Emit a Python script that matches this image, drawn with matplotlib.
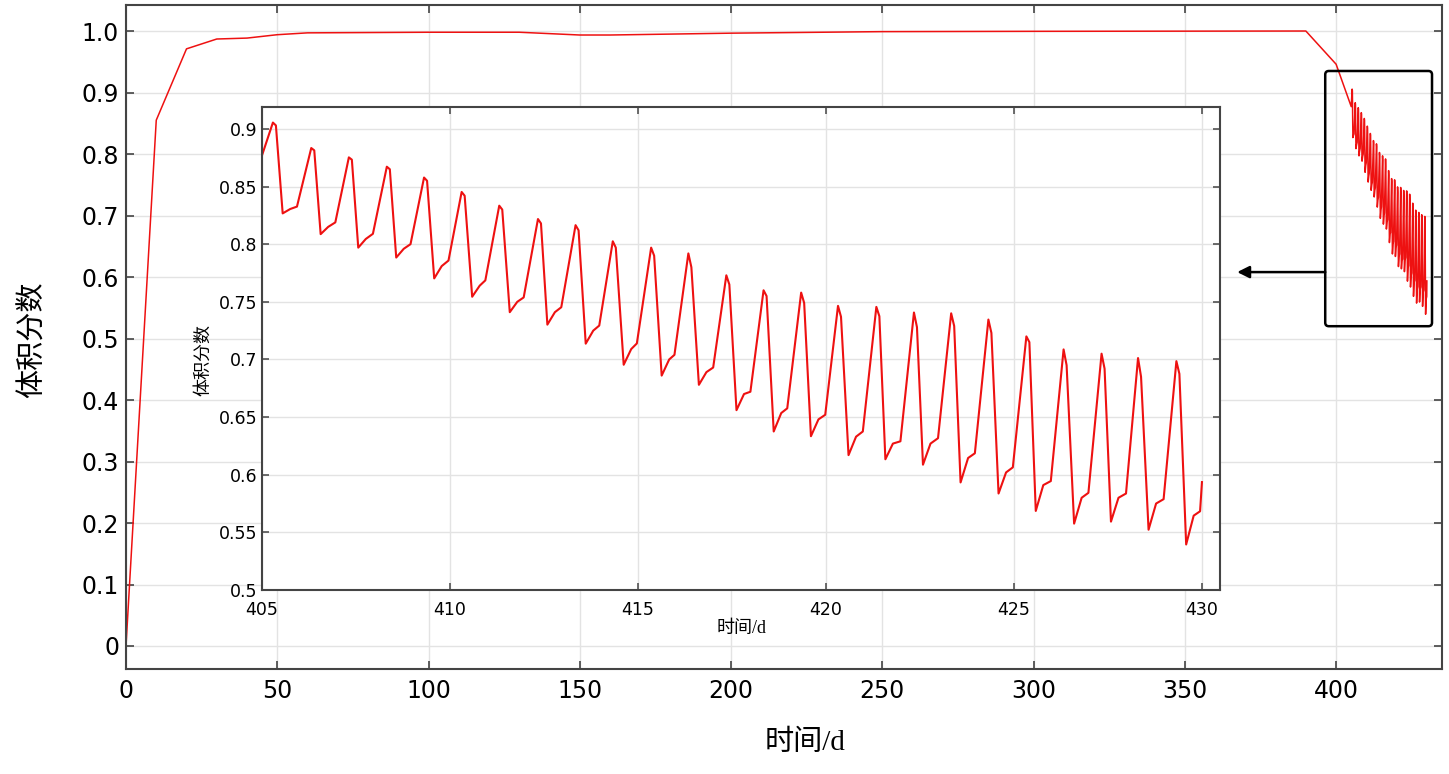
import numpy as np
import matplotlib
matplotlib.use('Agg')
import matplotlib.pyplot as plt
from matplotlib.patches import FancyBboxPatch

# Основная кривая (0..405 сут)
main_t = [0, 10, 20, 30, 40, 50, 60, 100, 130, 150, 160, 200, 250, 300, 390, 400, 405.0]
main_v = [0, 0.855, 0.971, 0.987, 0.9885, 0.994, 0.997, 0.998, 0.998, 0.9935, 0.9935,
          0.9965, 0.999, 0.9995, 1.0, 0.946, 0.877]

# Колебания 405..430 сут: пик, плечо, минимум, подъём, излом
peak_t = [405.29, 406.31, 407.31, 408.32, 409.31, 410.31, 411.31, 412.34, 413.34, 414.33,
          415.35, 416.34, 417.35, 418.34, 419.34, 420.32, 421.34, 422.34, 423.33, 424.32,
          425.33, 426.32, 427.33, 428.30, 429.32]
peak_v = [0.9055, 0.8834, 0.8753, 0.8672, 0.8578, 0.8453, 0.8334, 0.8218, 0.8165, 0.8025,
          0.797, 0.792, 0.773, 0.760, 0.758, 0.7465, 0.7456, 0.7407, 0.740, 0.7346,
          0.720, 0.7087, 0.705, 0.7012, 0.6985]
shoulder_v = [0.903, 0.8814, 0.8733, 0.865, 0.855, 0.842, 0.830, 0.818, 0.812, 0.797,
              0.790, 0.780, 0.765, 0.755, 0.749, 0.737, 0.7375, 0.728, 0.729, 0.723,
              0.715, 0.695, 0.692, 0.685, 0.6875]
min_t = [405.55, 406.56, 407.56, 408.57, 409.58, 410.59, 411.59, 412.59, 413.61, 414.62,
         415.63, 416.62, 417.62, 418.61, 419.60, 420.60, 421.58, 422.58, 423.58, 424.59,
         425.58, 426.60, 427.58, 428.58, 429.58]
min_v = [0.8267, 0.8087, 0.797, 0.7884, 0.7703, 0.7544, 0.741, 0.7302, 0.7137, 0.6954,
         0.686, 0.678, 0.656, 0.6375, 0.6334, 0.617, 0.6134, 0.6087, 0.5933, 0.5837,
         0.5686, 0.5576, 0.5593, 0.5523, 0.5395]
rise_v = [0.8305, 0.8150, 0.8045, 0.7960, 0.7810, 0.7640, 0.7500, 0.7410, 0.7250, 0.7090,
          0.700, 0.689, 0.670, 0.6535, 0.648, 0.633, 0.627, 0.627, 0.6145, 0.602,
          0.591, 0.580, 0.580, 0.575, 0.5645]
kink_t = [405.93, 406.95, 407.95, 408.95, 409.96, 410.94, 411.96, 412.96, 413.97, 414.97,
          415.97, 417.00, 417.99, 418.97, 419.98, 420.98, 421.98, 422.98, 423.96, 424.97,
          425.98, 426.98, 427.98, 428.98, 429.95]
kink_v = [0.8326, 0.8189, 0.809, 0.800, 0.7858, 0.7686, 0.7538, 0.7453, 0.7294, 0.7139,
          0.704, 0.693, 0.672, 0.6576, 0.652, 0.6375, 0.629, 0.6317, 0.6186, 0.6064,
          0.5945, 0.5843, 0.5837, 0.5788, 0.5683]
end_t, end_v = 430.0, 0.5936

osc_t, osc_v = [], []
for i in range(len(peak_t)):
    osc_t += [peak_t[i], peak_t[i] + 0.08, min_t[i], min_t[i] + 0.2, kink_t[i]]
    osc_v += [peak_v[i], shoulder_v[i], min_v[i], rise_v[i], kink_v[i]]
osc_t.append(end_t)
osc_v.append(end_v)

t_all = np.array(main_t + osc_t)
v_all = np.array(main_v + osc_v)

main_xticks = np.arange(0, 401, 50)
main_yticks = np.round(np.arange(0, 1.01, 0.1), 1)
main_ylabels = ['0'] + ['%.1f' % v for v in main_yticks[1:]]
ins_xticks = np.arange(405, 431, 5)
ins_yticks = [0.5, 0.55, 0.6, 0.65, 0.7, 0.75, 0.8, 0.85, 0.9]
ins_ylabels = ['0.5', '0.55', '0.6', '0.65', '0.7', '0.75', '0.8', '0.85', '0.9']

red = '#ee1111'
spine_c = '#444444'
grid_c = '#e3e3e3'
cjk = ['Liberation Serif', 'Noto Sans CJK SC']

W, H = 1449, 774
fig = plt.figure(figsize=(W / 100, H / 100), dpi=100)


def px(l, t, r, b):
    return [l / W, 1 - b / H, (r - l) / W, (b - t) / H]


ax = fig.add_axes(px(126, 5, 1442, 669))
ax.plot(t_all, v_all, color=red, lw=1.1)
ax.set_xlim(0, 435)
ax.set_ylim(-0.0374, 1.0423)
ax.set_xticks(main_xticks)
ax.set_yticks(main_yticks)
ax.set_yticklabels(main_ylabels)
ax.tick_params(direction='in', top=True, right=True, length=6, width=1.2,
               labelsize=17, color=spine_c, pad=7)
ax.tick_params(axis='y', pad=5)
ax.grid(color=grid_c, lw=1)
for s in ax.spines.values():
    s.set_color(spine_c)
    s.set_linewidth(1.5)

# рамка и стрелка
box = FancyBboxPatch((396.4, 0.52), 35.3, 0.415,
                     boxstyle='round,pad=0,rounding_size=1.2',
                     mutation_aspect=0.0049, fill=False, ec='black', lw=1.8,
                     transform=ax.transData, zorder=5)
ax.add_patch(box)
ax.annotate('', xy=(367.3, 0.608), xytext=(396.4, 0.608),
            arrowprops=dict(arrowstyle='-|>', color='black', lw=1.8,
                            mutation_scale=18, shrinkA=0, shrinkB=0), zorder=6)

fig.text(33 / W, 1 - 340 / H, '体积分数', rotation=90, ha='center', va='center',
         fontsize=21, family=cjk)
fig.text(805 / W, 1 - 743 / H, '时间/d', ha='center', va='center',
         fontsize=21, family=cjk)

# врезка
ins = fig.add_axes(px(262, 107, 1220, 590))
ins.plot(t_all, v_all, color=red, lw=1.5)
ins.set_xlim(405, 430.48)
ins.set_ylim(0.5, 0.919)
ins.set_xticks(ins_xticks)
ins.set_yticks(ins_yticks)
ins.set_yticklabels(ins_ylabels)
ins.tick_params(direction='in', top=True, right=True, length=5, width=1.1,
                labelsize=12.5, color=spine_c, pad=3)
ins.tick_params(axis='x', pad=8)
ins.grid(color=grid_c, lw=1)
for s in ins.spines.values():
    s.set_color(spine_c)
    s.set_linewidth(1.5)
fig.text(204 / W, 1 - 360 / H, '体积分数', rotation=90, ha='center', va='center',
         fontsize=13, family=cjk)
fig.text(742 / W, 1 - 628 / H, '时间/d', ha='center', va='center',
         fontsize=13, family=cjk)

fig.savefig('out.png', dpi=100)
